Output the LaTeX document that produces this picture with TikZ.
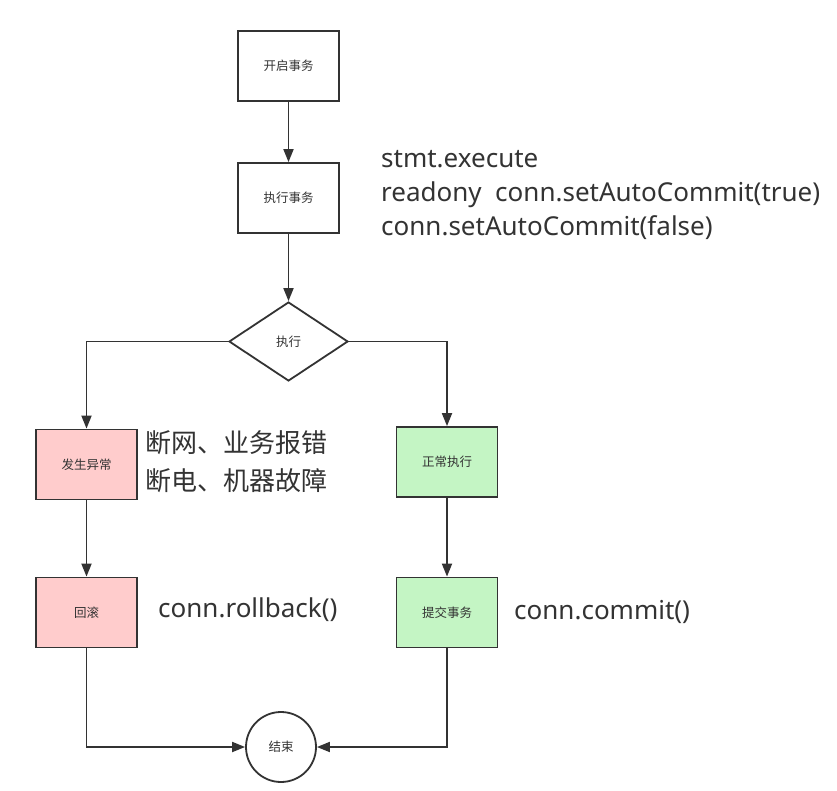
\documentclass[tikz,border=0pt]{standalone}
\usepackage{fontspec}
\setmainfont{Noto Sans}
\newfontfamily\cjk{Noto Sans CJK SC}
\usetikzlibrary{shapes.geometric,arrows.meta}
\definecolor{linec}{HTML}{333333}
\definecolor{txtc}{HTML}{333333}
\definecolor{pinkf}{HTML}{FFCCCC}
\definecolor{greenf}{HTML}{C4F5C4}
\begin{document}
\begin{tikzpicture}[x=1pt,y=-1pt,
  every node/.style={text=txtc},
  box/.style={draw=linec,line width=1.8pt,minimum width=101pt,minimum height=70pt,inner sep=0pt,font=\cjk\fontsize{12.5}{15}\selectfont},
  dia/.style={draw=linec,line width=1.8pt,diamond,minimum width=119pt,minimum height=79pt,inner sep=0pt,font=\cjk\fontsize{12.5}{15}\selectfont},
  endc/.style={draw=linec,line width=1.8pt,circle,minimum size=70pt,inner sep=0pt,font=\cjk\fontsize{12.5}{15}\selectfont},
  conn/.style={draw=linec,line width=1.8pt,-{Triangle[length=13pt,width=10pt]}},
  note/.style={anchor=west,inner sep=0pt,font=\fontsize{26}{34}\selectfont,align=left},
  cnote/.style={anchor=west,inner sep=0pt,font=\cjk\fontsize{26}{38}\selectfont,align=left}]
\useasboundingbox (0,0) rectangle (837,791);
\fill[white] (0,0) rectangle (837,791);
\node[box] (start) at (288.5,66) {开启事务};
\node[box] (exec) at (288.5,198) {执行事务};
\node[dia] (d) at (288.5,341.5) {执行};
\node[box,fill=pinkf] (err) at (86.5,464.5) {发生异常};
\node[box,fill=greenf] (ok) at (447,462) {正常执行};
\node[box,fill=pinkf] (rb) at (86.5,612.5) {回滚};
\node[box,fill=greenf] (cm) at (447,612.5) {提交事务};
\node[endc] (end) at (281,747) {结束};
\draw[conn] (start) -- (exec);
\draw[conn] (exec) -- (d);
\draw[conn] (d.west) -| (err.north);
\draw[conn] (d.east) -| (ok.north);
\draw[conn] (err) -- (rb);
\draw[conn] (ok) -- (cm);
\draw[conn] (rb.south) |- (end.west);
\draw[conn] (cm.south) |- (end.east);
\node[note] (n1) at (381,195) {stmt.execute\\readony\ \ conn.setAutoCommit(true)\\conn.setAutoCommit(false)};
\node[cnote] (n2) at (145,462) {断网、业务报错\\断电、机器故障};
\node[note] (n3) at (158,610) {conn.rollback()};
\node[note] (n4) at (514,612) {conn.commit()};
\end{tikzpicture}
\end{document}
